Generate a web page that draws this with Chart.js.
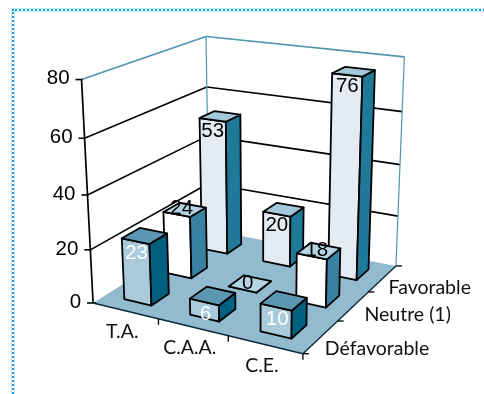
<!DOCTYPE html>
<html>
<head>
<meta charset="utf-8">
<style>
  html, body { margin: 0; padding: 0; background: #fff; }
  #wrap { position: relative; width: 484px; height: 394px; overflow: hidden; }
  #frame { position: absolute; left: 12px; top: 9px; width: 600px; height: 600px;
           border: 2px dotted #12a2da; box-sizing: border-box;
           box-shadow: 0 0 0 1px rgba(60,180,225,.3), inset 0 0 0 1px rgba(60,180,225,.25); }
  canvas { position: absolute; left: 0; top: 0; }
</style>
<script src="https://cdn.jsdelivr.net/npm/chart.js@4"></script>
</head>
<body>
<div id="wrap"><div id="frame"></div><canvas id="chart" width="484" height="394"></canvas></div>
<script>
// Survey results by category and opinion, shown as a perspective column chart.
const categories = ['T.A.', 'C.A.A.', 'C.E.'];
const seriesNames = ['Défavorable', 'Neutre (1)', 'Favorable'];
const defavorable = [23, 6, 10];
const neutre = [24, 0, 18];
const favorable = [53, 20, 76];
const yTicks = [0, 20, 40, 60, 80];

// Face colours for each series: front, top, side.
const faceColours = [
  ['#a8cadb', '#5b97b1', '#00607f'],
  ['#ffffff', '#b4d5e3', '#3781a1'],
  ['#e4ebf3', '#a3c8da', '#1f7a9a']
];
const labelColours = ['#ffffff', '#000000', '#000000'];
const labelOffsets = [[1, 12], [5, -6], [0, 11]];
const seriesNameOffsets = [[4, 12], [11, 9], [6, 9]];

// Camera fit: known cube positions (u along categories, w into depth, v up)
// and where they land on the canvas.
const viewPoints = [
  [0, 0, 0, 93, 306], [1, 0, 0, 302, 352], [1, 1, 0, 398, 267], [0, 1, 0, 208, 225],
  [0, 0, 1, 82, 78], [0, 1, 1, 206, 36], [1, 1, 1, 404, 56],
  [0, 0, .5, 88, 195], [0, 1, .5, 208, 140], [1, 1, .5, 399, 166]
];

function solveCamera(points) {
  const n = 11, A = [], b = [];
  for (let i = 0; i < n; i++) { A.push(new Array(n).fill(0)); b.push(0); }
  const add = (row, rhs) => {
    for (let i = 0; i < n; i++) {
      b[i] += row[i] * rhs;
      for (let j = 0; j < n; j++) A[i][j] += row[i] * row[j];
    }
  };
  points.forEach(([u, w, v, px, py]) => {
    add([u, w, v, 1, 0, 0, 0, 0, -px * u, -px * w, -px * v], px);
    add([0, 0, 0, 0, u, w, v, 1, -py * u, -py * w, -py * v], py);
  });
  for (let i = 0; i < n; i++) {
    let p = i;
    for (let r = i + 1; r < n; r++) if (Math.abs(A[r][i]) > Math.abs(A[p][i])) p = r;
    [A[i], A[p]] = [A[p], A[i]]; [b[i], b[p]] = [b[p], b[i]];
    for (let r = 0; r < n; r++) {
      if (r === i) continue;
      const f = A[r][i] / A[i][i];
      for (let c = i; c < n; c++) A[r][c] -= f * A[i][c];
      b[r] -= f * b[i];
    }
  }
  return b.map((x, i) => x / A[i][i]);
}
const cam = solveCamera(viewPoints);
function project(u, w, v) {
  const d = cam[8] * u + cam[9] * w + cam[10] * v + 1;
  return [(cam[0] * u + cam[1] * w + cam[2] * v + cam[3]) / d,
          (cam[4] * u + cam[5] * w + cam[6] * v + cam[7]) / d];
}

function polygon(ctx, pts, fill, stroke, width) {
  ctx.beginPath();
  pts.forEach((p, i) => i ? ctx.lineTo(p[0], p[1]) : ctx.moveTo(p[0], p[1]));
  ctx.closePath();
  if (fill) { ctx.fillStyle = fill; ctx.fill(); }
  if (stroke) { ctx.strokeStyle = stroke; ctx.lineWidth = width; ctx.lineJoin = 'round'; ctx.stroke(); }
}
function segment(ctx, a, b, stroke, width) {
  ctx.beginPath(); ctx.moveTo(a[0], a[1]); ctx.lineTo(b[0], b[1]);
  ctx.strokeStyle = stroke; ctx.lineWidth = width; ctx.stroke();
}

const DEPTH_FILL = 0.42;
const TICK_FONT = '20.5px "Liberation Sans"';
const NAME_FONT = '19.5px Lato';
const TEAL = '#4f94ae';

const perspectiveColumns = {
  id: 'perspectiveColumns',
  beforeDatasetsDraw(chart) {
    const { ctx, chartArea: area, scales: { x, y } } = chart;
    const toV = px => (area.bottom - px) / (area.bottom - area.top);
    ctx.save();

    // Floor
    polygon(ctx, [project(0, 0, 0), project(1, 0, 0), project(1, 1, 0), project(0, 1, 0)], '#93bbcf');

    // Wall grid lines and value labels
    y.ticks.forEach((tick, i) => {
      const v = toV(y.getPixelForTick(i));
      const colour = tick.value === 80 ? TEAL : '#000000';
      if (tick.value > 0) {
        segment(ctx, project(0, 0, v), project(0, 1, v), colour, 1.6);
        segment(ctx, project(0, 1, v), project(1, 1, v), colour, 1.6);
      }
      const p = project(0, 0, v);
      segment(ctx, [p[0] - 6, p[1]], [p[0] + (tick.value === 0 ? 3 : 1), p[1]], '#000000', 1.6);
      ctx.fillStyle = '#000000';
      ctx.font = TICK_FONT;
      ctx.textAlign = 'right';
      ctx.textBaseline = 'middle';
      ctx.fillText(tick.label, p[0] - 12, p[1] - 1);
    });
    segment(ctx, project(0, 1, 0), project(0, 1, 1), TEAL, 1.2);
    segment(ctx, project(1, 1, 0), project(1, 1, 1), TEAL, 1.2);
    segment(ctx, project(0, 0, 0), project(0, 0, 1), '#000000', 1.7);

    // Floor edges and their ticks
    segment(ctx, project(0, 0, 0), project(1, 0, 0), '#0a2a3a', 1.6);
    segment(ctx, project(1, 0, 0), project(1, 1, 0), '#0a2a3a', 1.4);
    for (let k = 1; k <= categories.length; k++) {
      const p = project(k / categories.length, 0, 0);
      segment(ctx, p, [p[0], p[1] + 6], '#000000', 1.3);
    }
    for (let k = 0; k <= seriesNames.length; k++) {
      const p = project(1, k / seriesNames.length, 0);
      segment(ctx, p, [p[0] + 6, p[1]], '#000000', 1.3);
    }

    // Axis names
    ctx.font = NAME_FONT;
    ctx.fillStyle = '#111111';
    ctx.textBaseline = 'middle';
    ctx.textAlign = 'center';
    categories.forEach((name, k) => {
      const p = project((x.getPixelForTick(k) - area.left) / (area.right - area.left), 0, 0);
      ctx.fillText(name, p[0] - 3, p[1] + 21);
    });
    ctx.textAlign = 'left';
    seriesNames.forEach((name, k) => {
      const p = project(1, (k + .5) / seriesNames.length, 0);
      ctx.fillText(name, p[0] + seriesNameOffsets[k][0], p[1] + seriesNameOffsets[k][1]);
    });

    // Columns, back row first
    const rows = chart.data.datasets.length;
    for (let d = rows - 1; d >= 0; d--) {
      const meta = chart.getDatasetMeta(d);
      meta.data.forEach((bar, k) => {
        const width = area.right - area.left;
        const u0 = (bar.x - bar.width / 2 - area.left) / width;
        const u1 = (bar.x + bar.width / 2 - area.left) / width;
        const w0 = (d + (1 - DEPTH_FILL) / 2) / rows;
        const w1 = (d + (1 + DEPTH_FILL) / 2) / rows;
        const v = toV(bar.y);
        const [front, top, side] = faceColours[d];
        const flb = project(u0, w0, 0), frb = project(u1, w0, 0), brb = project(u1, w1, 0);
        const flt = project(u0, w0, v), frt = project(u1, w0, v);
        const blt = project(u0, w1, v), brt = project(u1, w1, v);
        polygon(ctx, [flb, frb, frt, flt], front, '#000000', 1.8);
        polygon(ctx, [frb, brb, brt, frt], side, '#000000', 1.8);
        polygon(ctx, [flt, frt, brt, blt], top, '#000000', 1.8);
        const value = chart.data.datasets[d].data[k];
        ctx.font = TICK_FONT;
        ctx.fillStyle = labelColours[d];
        ctx.textAlign = 'center';
        ctx.textBaseline = 'middle';
        ctx.fillText(String(value),
          (flt[0] + frt[0]) / 2 + labelOffsets[d][0],
          (flt[1] + frt[1]) / 2 + labelOffsets[d][1]);
      });
    }
    ctx.restore();
    return false;
  }
};

new Chart(document.getElementById('chart'), {
  type: 'bar',
  data: {
    labels: categories,
    datasets: [
      { label: seriesNames[0], data: defavorable },
      { label: seriesNames[1], data: neutre },
      { label: seriesNames[2], data: favorable }
    ]
  },
  options: {
    responsive: false,
    animation: false,
    layout: { padding: { left: 93, right: 182, top: 78, bottom: 88 } },
    datasets: { bar: { grouped: false, barPercentage: 0.42, categoryPercentage: 1 } },
    plugins: { legend: { display: false }, tooltip: { enabled: false } },
    scales: {
      x: { display: false },
      y: {
        display: false, min: 0, max: 80,
        afterBuildTicks(scale) { scale.ticks = yTicks.map(value => ({ value })); }
      }
    }
  },
  plugins: [perspectiveColumns]
});
</script>
</body>
</html>
